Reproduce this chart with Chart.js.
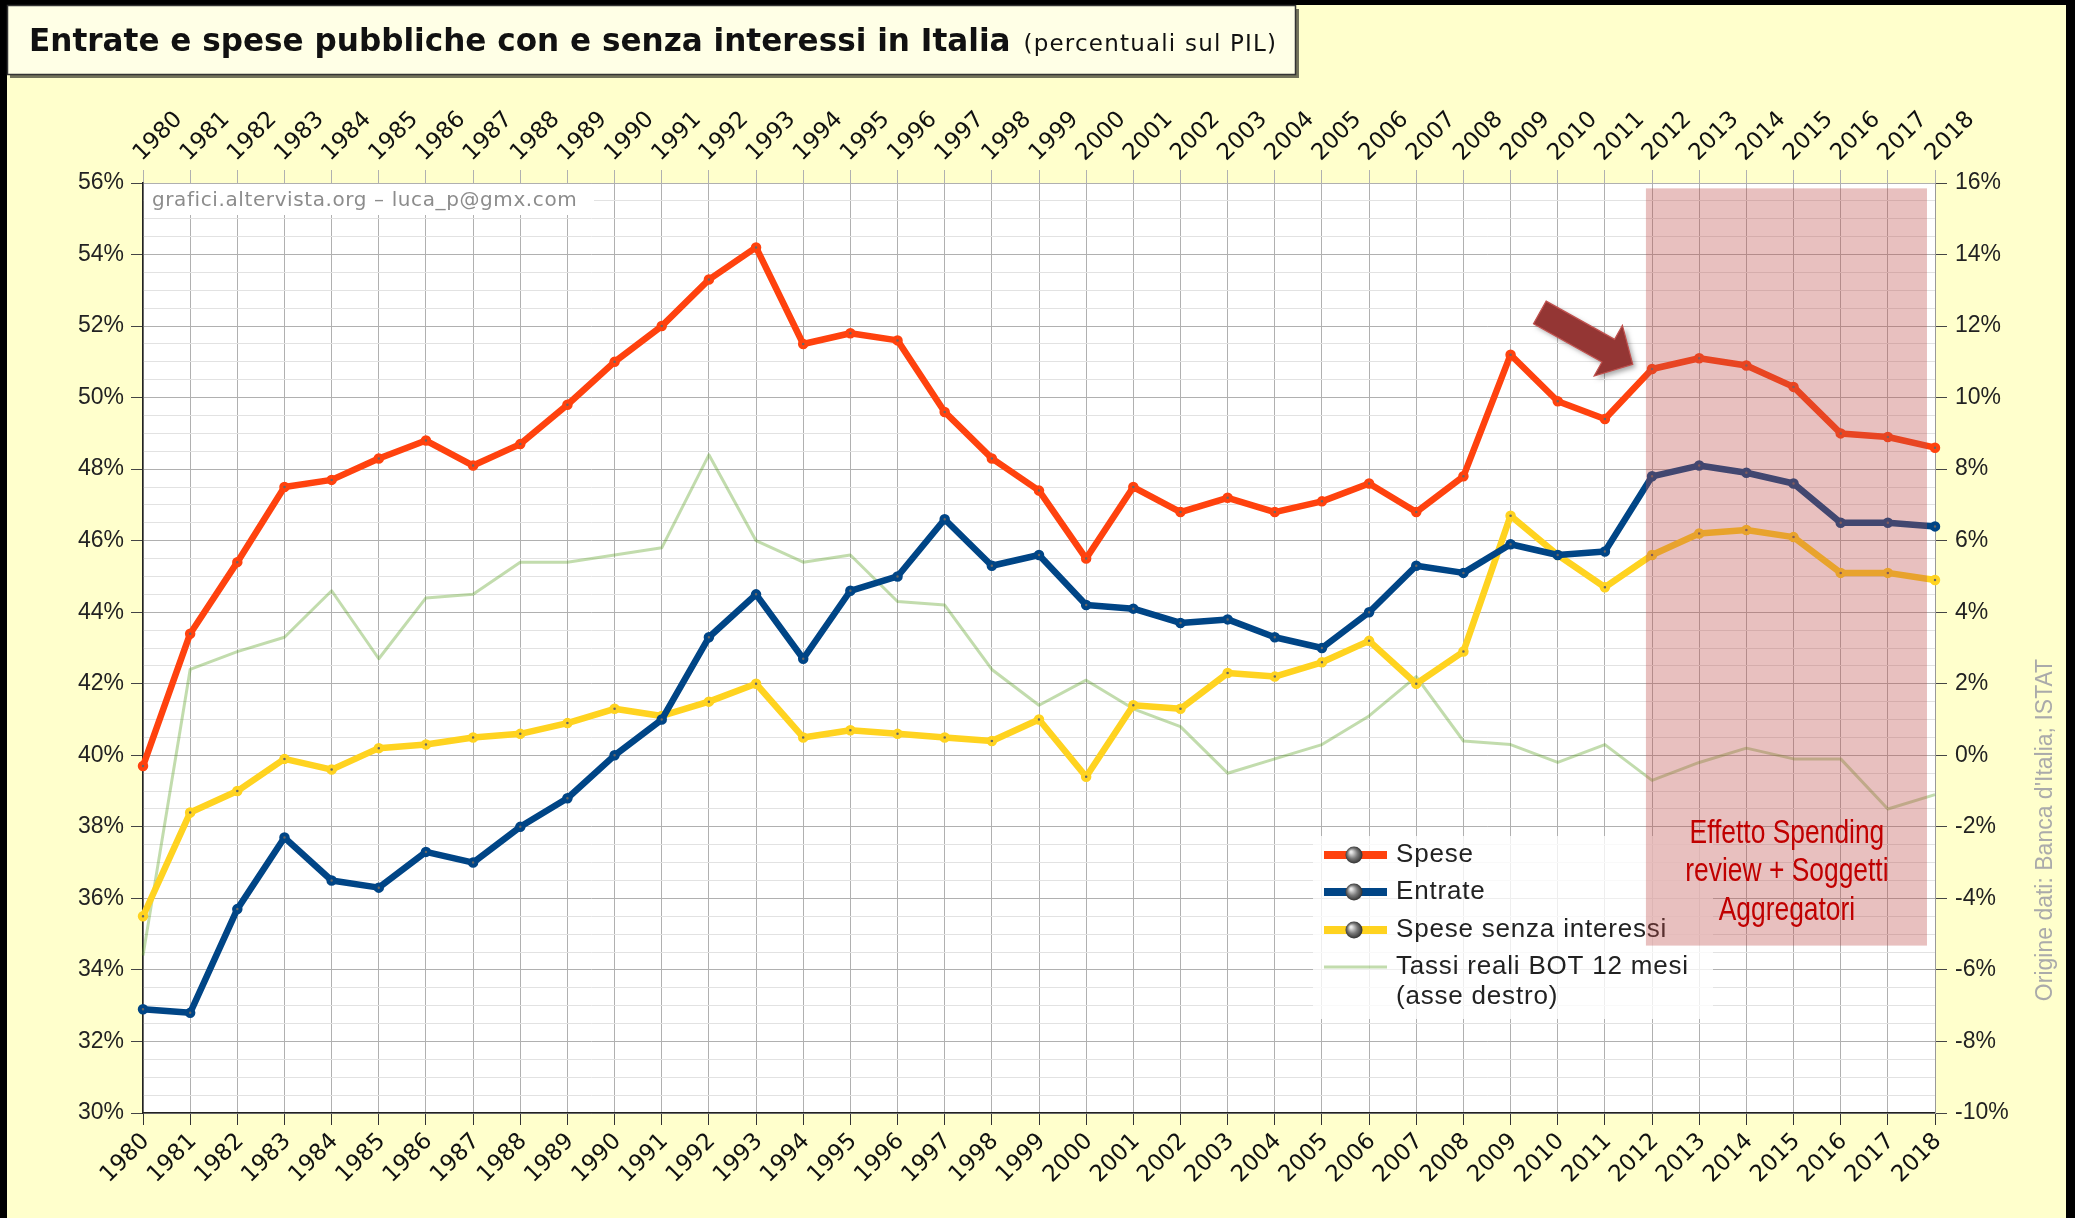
<!DOCTYPE html>
<html>
<head>
<meta charset="utf-8">
<script src="https://cdn.jsdelivr.net/npm/chart.js@4.4.1/dist/chart.umd.min.js"></script>
<style>
  html, body { margin: 0; padding: 0; background: #ffffcc; }
  canvas { display: block; }
</style>
</head>
<body>
<canvas id="chart" width="2075" height="1218"></canvas>
<script>
// Data (percent of GDP, BOT real rates on the right axis)
const years = ['1980', '1981', '1982', '1983', '1984', '1985', '1986', '1987', '1988', '1989',
    '1990', '1991', '1992', '1993', '1994', '1995', '1996', '1997', '1998', '1999',
    '2000', '2001', '2002', '2003', '2004', '2005', '2006', '2007', '2008', '2009',
    '2010', '2011', '2012', '2013', '2014', '2015', '2016', '2017', '2018'];

const spese = [39.7, 43.4, 45.4, 47.5, 47.7, 48.3, 48.8, 48.1, 48.7, 49.8,
    51.0, 52.0, 53.3, 54.2, 51.5, 51.8, 51.6, 49.6, 48.3, 47.4,
    45.5, 47.5, 46.8, 47.2, 46.8, 47.1, 47.6, 46.8, 47.8, 51.2,
    49.9, 49.4, 50.8, 51.1, 50.9, 50.3, 49.0, 48.9, 48.6];

const entrate = [32.9, 32.8, 35.7, 37.7, 36.5, 36.3, 37.3, 37.0, 38.0, 38.8,
    40.0, 41.0, 43.3, 44.5, 42.7, 44.6, 45.0, 46.6, 45.3, 45.6,
    44.2, 44.1, 43.7, 43.8, 43.3, 43.0, 44.0, 45.3, 45.1, 45.9,
    45.6, 45.7, 47.8, 48.1, 47.9, 47.6, 46.5, 46.5, 46.4];

const speseSenzaInteressi = [35.5, 38.4, 39.0, 39.9, 39.6, 40.2, 40.3, 40.5, 40.6, 40.9,
    41.3, 41.1, 41.5, 42.0, 40.5, 40.7, 40.6, 40.5, 40.4, 41.0,
    39.4, 41.4, 41.3, 42.3, 42.2, 42.6, 43.2, 42.0, 42.9, 46.7,
    45.6, 44.7, 45.6, 46.2, 46.3, 46.1, 45.1, 45.1, 44.9];

const tassiBot = [-5.6, 2.4, 2.9, 3.3, 4.6, 2.7, 4.4, 4.5, 5.4, 5.4,
    5.6, 5.8, 8.4, 6.0, 5.4, 5.6, 4.3, 4.2, 2.4, 1.4,
    2.1, 1.3, 0.8, -0.5, -0.1, 0.3, 1.1, 2.2, 0.4, 0.3,
    -0.2, 0.3, -0.7, -0.2, 0.2, -0.1, -0.1, -1.5, -1.1];

const titleMain = 'Entrate e spese pubbliche con e senza interessi in Italia';
const titleSub = '(percentuali sul PIL)';
const watermark = 'grafici.altervista.org \u2013 luca_p@gmx.com';
const sourceNote = "Origine dati: Banca d'Italia; ISTAT";
const noteLines = ['Effetto Spending', 'review + Soggetti', 'Aggregatori'];

const MAJOR = '#b0b0b0';
const MINOR = '#e2e2e2';

// backgrounds, frame, watermark
const backdrop = {
    id: 'backdrop',
    beforeDraw(chart) {
        const { ctx, chartArea: a } = chart;
        ctx.save();
        ctx.fillStyle = '#ffffcc';
        ctx.fillRect(0, 0, chart.width, chart.height);
        ctx.fillStyle = '#ffffff';
        ctx.fillRect(a.left, a.top, a.right - a.left, a.bottom - a.top);
        ctx.restore();
    },
    beforeDatasetsDraw(chart) {
        const { ctx, chartArea: a } = chart;
        ctx.save();
        ctx.fillStyle = '#ffffff';
        ctx.fillRect(a.left + 1, a.top + 1, 450, 31);
        ctx.fillStyle = '#8c8c8c';
        ctx.font = '20px "DejaVu Sans"';
        ctx.letterSpacing = '0.6px';
        ctx.textBaseline = 'middle';
        ctx.fillText(watermark, a.left + 9, a.top + 18);
        ctx.restore();
    },
    afterDraw(chart) {
        const { ctx } = chart;
        ctx.save();
        // outer frame
        ctx.fillStyle = '#000';
        ctx.fillRect(0, 0, 7, chart.height);
        ctx.fillRect(0, 0, chart.width, 5);
        ctx.fillRect(2066, 0, 9, chart.height);
        // title box
        ctx.fillStyle = 'rgba(0,0,0,0.55)';
        ctx.fillRect(10, 9, 1289, 69);
        ctx.fillStyle = '#ffffe6';
        ctx.fillRect(7, 5, 1289, 70);
        ctx.strokeStyle = '#333';
        ctx.lineWidth = 1.5;
        ctx.strokeRect(7.5, 5.5, 1288, 69);
        ctx.fillStyle = '#111';
        ctx.textBaseline = 'alphabetic';
        ctx.font = 'bold 28px "DejaVu Sans"';
        let w = ctx.measureText(titleMain).width;
        const size = 28 * 981 / w;
        ctx.font = 'bold ' + size.toFixed(1) + 'px "DejaVu Sans"';
        w = ctx.measureText(titleMain).width;
        ctx.fillText(titleMain, 29, 51);
        ctx.font = '23px "DejaVu Sans"';
        ctx.letterSpacing = '1.2px';
        ctx.fillText(titleSub, 29 + w + 13, 51);
        ctx.letterSpacing = '0px';
        // source note
        ctx.translate(2046, 830);
        ctx.rotate(-Math.PI / 2);
        ctx.fillStyle = '#aaaaaa';
        ctx.font = '23px "Liberation Sans"';
        ctx.textAlign = 'center';
        ctx.textBaseline = 'middle';
        ctx.fillText(sourceNote, 0, 0);
        ctx.restore();
    }
};

// legend, shaded period, arrow and note
const overlays = {
    id: 'overlays',
    afterDatasetsDraw(chart) {
        const { ctx } = chart;
        const x = chart.scales.x;
        const y = chart.scales.y;
        ctx.save();

        // legend
        ctx.fillStyle = 'rgba(255,255,255,0.78)';
        ctx.fillRect(1313, 836, 400, 183);
        const rows = [855, 892, 930, 967];
        chart.data.datasets.forEach((ds, i) => {
            const ry = rows[i];
            ctx.strokeStyle = ds.borderColor;
            ctx.lineWidth = ds.pointRadius > 0 ? 8 : 3;
            ctx.beginPath();
            ctx.moveTo(1324, ry);
            ctx.lineTo(1387, ry);
            ctx.stroke();
            if (ds.pointRadius > 0) {
                const g = ctx.createRadialGradient(1351, ry - 3, 1, 1354, ry, 9);
                g.addColorStop(0, '#e8e8e8');
                g.addColorStop(0.5, '#7a7a7a');
                g.addColorStop(1, '#2a2a2a');
                ctx.fillStyle = g;
                ctx.beginPath();
                ctx.arc(1354, ry, 8.5, 0, Math.PI * 2);
                ctx.fill();
            }
            ctx.fillStyle = '#222';
            ctx.font = '26px "Liberation Sans"';
            ctx.letterSpacing = '0.8px';
            ctx.textBaseline = 'middle';
            ds.label.split('\n').forEach((line, k) => {
                ctx.fillText(line, 1396, ry + k * 30);
            });
            ctx.letterSpacing = '0px';
        });

        // shaded period
        const bx0 = x.getPixelForValue(31.87);
        const bx1 = x.getPixelForValue(37.83);
        const by0 = y.getPixelForValue(55.85);
        const by1 = y.getPixelForValue(34.68);
        ctx.fillStyle = 'rgba(190,75,72,0.35)';
        ctx.fillRect(bx0, by0, bx1 - bx0, by1 - by0);

        // arrow
        const tx = x.getPixelForValue(29.62), ty = y.getPixelForValue(52.38);
        const px = x.getPixelForValue(31.59), py = y.getPixelForValue(50.93);
        const len = Math.hypot(px - tx, py - ty);
        ctx.save();
        ctx.translate(tx, ty);
        ctx.rotate(Math.atan2(py - ty, px - tx));
        ctx.shadowColor = 'rgba(0,0,0,0.35)';
        ctx.shadowBlur = 5;
        ctx.shadowOffsetX = 3;
        ctx.shadowOffsetY = 3;
        const head = 28, sw = 13, hw = 29;
        ctx.beginPath();
        ctx.moveTo(0, -sw);
        ctx.lineTo(len - head, -sw);
        ctx.lineTo(len - head, -hw);
        ctx.lineTo(len, 0);
        ctx.lineTo(len - head, hw);
        ctx.lineTo(len - head, sw);
        ctx.lineTo(0, sw);
        ctx.closePath();
        ctx.fillStyle = '#943634';
        ctx.fill();
        ctx.shadowColor = 'transparent';
        ctx.strokeStyle = '#c0504d';
        ctx.lineWidth = 1.2;
        ctx.stroke();
        ctx.restore();

        // note text (condensed)
        ctx.fillStyle = '#c00000';
        ctx.font = '33px "Liberation Sans"';
        ctx.textAlign = 'center';
        ctx.textBaseline = 'middle';
        const cx = x.getPixelForValue(34.86);
        [37.8, 36.75, 35.65].forEach((v, i) => {
            ctx.save();
            ctx.translate(cx, y.getPixelForValue(v));
            ctx.scale(0.8, 1);
            ctx.fillText(noteLines[i], 0, 0);
            ctx.restore();
        });
        ctx.restore();
    }
};

const ctx = document.getElementById('chart').getContext('2d');
const chart = new Chart(ctx, {
    type: 'line',
    data: {
        labels: years,
        datasets: [
            {
                label: 'Spese',
                data: spese,
                borderColor: '#ff420e',
                borderWidth: 6.5,
                pointRadius: 2,
                yAxisID: 'y',
            },
            {
                label: 'Entrate',
                data: entrate,
                borderColor: '#004586',
                borderWidth: 6.5,
                pointRadius: 2,
                yAxisID: 'y',
            },
            {
                label: 'Spese senza interessi',
                data: speseSenzaInteressi,
                borderColor: '#ffd320',
                borderWidth: 6.5,
                pointRadius: 2,
                yAxisID: 'y',
            },
            {
                label: 'Tassi reali BOT 12 mesi\n(asse destro)',
                data: tassiBot,
                borderColor: 'rgba(87,157,28,0.36)',
                borderWidth: 3,
                pointRadius: 0,
                yAxisID: 'y2',
            },
        ],
    },
    options: {
        responsive: false,
        animation: false,
        layout: { padding: 0 },
        elements: {
            line: { tension: 0, borderJoinStyle: 'round' },
            point: { backgroundColor: '#666', borderColor: '#444', borderWidth: 0.5 },
        },
        plugins: {
            legend: { display: false },
            tooltip: { enabled: false },
        },
        scales: {
            x: {
                position: 'bottom',
                offset: false,
                afterFit: (s) => { s.height = 105; },
                grid: { color: MAJOR, tickColor: '#333', tickLength: 12 },
                border: { color: '#222', width: 1.5 },
                ticks: {
                    autoSkip: false, minRotation: 45, maxRotation: 45, padding: 3, labelOffset: 3,
                    color: '#111', font: { family: 'DejaVu Sans', size: 23 },
                },
            },
            x2: {
                type: 'category',
                position: 'top',
                offset: false,
                afterFit: (s) => { s.height = 183; },
                grid: { drawOnChartArea: false, color: MAJOR, tickLength: 13 },
                border: { color: MAJOR },
                ticks: {
                    autoSkip: false, minRotation: 45, maxRotation: 45, padding: 3, labelOffset: 14,
                    color: '#111', font: { family: 'DejaVu Sans', size: 23 },
                },
            },
            y: {
                position: 'left',
                min: 30,
                max: 56,
                afterFit: (s) => { s.width = 143; },
                grid: {
                    color: (c) => (c.tick && c.tick.value % 2 === 0 ? MAJOR : MINOR),
                    tickColor: (c) => (c.tick && c.tick.value % 2 === 0 ? '#444' : 'rgba(0,0,0,0)'),
                    tickLength: 12,
                },
                border: { color: '#222', width: 1.5 },
                ticks: {
                    stepSize: 0.5, autoSkip: false, padding: 7,
                    color: '#222', font: { family: 'Liberation Sans', size: 23 },
                    callback: (v) => (v % 2 === 0 ? v + '%' : ''),
                },
            },
            y2: {
                position: 'right',
                min: -10,
                max: 16,
                afterFit: (s) => { s.width = 140; },
                grid: { drawOnChartArea: false, tickColor: '#444', tickLength: 12 },
                border: { color: '#999' },
                ticks: {
                    stepSize: 2, autoSkip: false, padding: 8,
                    color: '#222', font: { family: 'Liberation Sans', size: 23 },
                    callback: (v) => v + '%',
                },
            },
        },
    },
    plugins: [backdrop, overlays],
});
</script>
</body>
</html>
